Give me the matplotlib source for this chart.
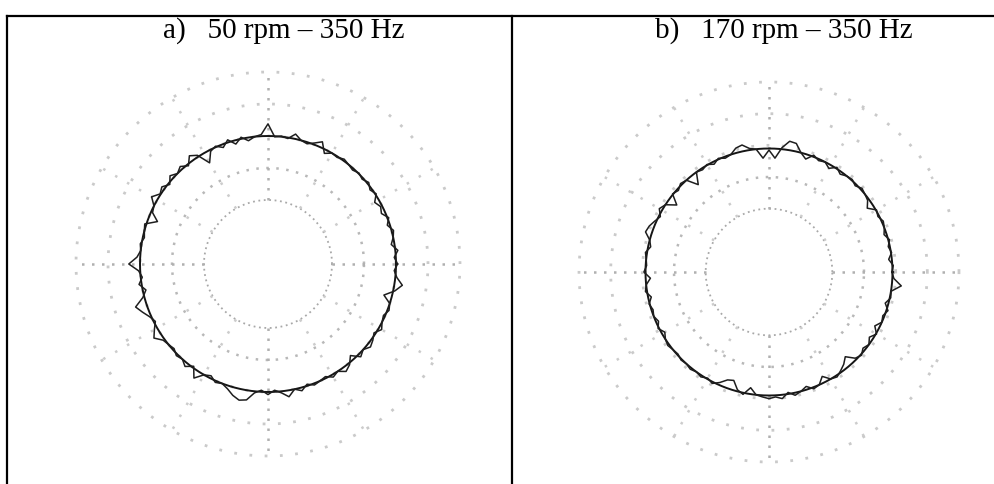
import numpy as np
import matplotlib
matplotlib.use("Agg")
import matplotlib.pyplot as plt
from matplotlib.lines import Line2D

# ---------------- data ----------------
titles = ["a)   50 rpm \u2013 350 Hz", "b)   170 rpm \u2013 350 Hz"]

angles_deg = list(range(0, 360, 3))  # measurement angles (deg, CCW from east)

ref_radius_a = 4.0
ref_radius_b = 3.9

dev_a = [0.05, -0.05, 0.08, -0.1, 0.0, 0.06, -0.08, 0.04, -0.12, -0.05,
         -0.15, 0.03, -0.06, 0.05, -0.04, 0.02, -0.05, 0.0, 0.05, -0.03,
         0.0, -0.12, 0.18, 0.05, -0.05, 0.0, 0.15, -0.03, 0.02, -0.02,
         0.38, 0.05, 0.0, -0.1, 0.05, -0.12, 0.08, -0.1, 0.03, -0.05,
         -0.35, 0.05, 0.18, -0.05, 0.1, 0.0, 0.12, -0.05, 0.1, 0.02,
         0.2, 0.0, -0.05, -0.3, 0.05, 0.0, -0.05, 0.04, 0.0, 0.1,
         0.35, 0.05, -0.05, 0.08, -0.1, 0.05, 0.35, 0.2, 0.05, -0.05,
         0.1, 0.25, 0.05, 0.0, -0.05, 0.05, 0.0, 0.12, -0.05, 0.25,
         0.0, -0.08, 0.05, 0.0, 0.1, 0.25, 0.35, 0.3, 0.05, -0.05,
         0.08, -0.05, 0.05, 0.2, 0.0, 0.1, -0.05, 0.05, 0.0, -0.05,
         0.08, 0.0, 0.15, 0.05, -0.15, 0.1, 0.0, 0.12, 0.05, -0.05,
         0.1, 0.0, -0.05, 0.05, 0.0, -0.25, 0.05, 0.25, 0.05, -0.05]

dev_b = [-0.02, 0.03, -0.1, 0.02, -0.05, 0.04, -0.08, 0.0, 0.05, -0.04,
         0.02, -0.2, -0.05, 0.0, 0.05, -0.05, 0.03, 0.0, -0.08, 0.04,
         -0.12, 0.0, -0.05, 0.05, -0.15, 0.0, 0.25, 0.28, 0.05, -0.3,
         -0.05, -0.3, 0.0, 0.05, 0.2, 0.15, 0.0, -0.05, 0.03, -0.08,
         0.02, -0.05, 0.0, -0.35, 0.0, 0.05, -0.05, 0.02, -0.3, 0.0,
         0.1, -0.05, 0.05, 0.15, 0.2, 0.0, -0.08, 0.05, 0.0, -0.03,
         0.05, -0.15, 0.0, 0.05, -0.1, 0.02, -0.05, 0.0, -0.08, 0.03,
         -0.1, 0.0, 0.05, 0.0, -0.03, 0.03, 0.0, 0.05, 0.0, 0.05,
         -0.03, 0.05, -0.08, -0.25, -0.3, -0.05, 0.05, -0.2, 0.0, 0.05,
         0.1, 0.05, 0.12, -0.05, 0.08, 0.0, -0.1, 0.05, 0.0, -0.2,
         0.0, 0.05, -0.05, -0.15, -0.3, -0.05, 0.03, -0.08, 0.0, -0.12,
         0.02, -0.15, 0.0, -0.05, 0.05, -0.1, 0.03, 0.0, 0.3, 0.05]

ring_values = [2, 3, 4, 5, 6]
spoke_angles_deg = list(range(0, 360, 30))

# ---------------- figure ----------------
W, H = 995, 484
fig = plt.figure(figsize=(W / 100, H / 100), dpi=100)
fig.patch.set_facecolor("white")

def px_axes(cx, cy, rad):
    return [(cx - rad) / W, 1 - (cy + rad) / H, 2 * rad / W, 2 * rad / H]

panels = [
    dict(rect=px_axes(268, 264, 192), ref=ref_radius_a, dev=dev_a, title=titles[0], tx=284),
    dict(rect=px_axes(769, 272, 190), ref=ref_radius_b, dev=dev_b, title=titles[1], tx=784),
]

tfull = np.linspace(0, 2 * np.pi, 721)

for p in panels:
    ax = fig.add_axes(p["rect"], projection="polar")
    ax.set_ylim(2, 6)
    ax.set_rorigin(0)
    ax.axis("off")

    # rings
    for rv in ring_values:
        if rv == 2:
            ls, col, lw = (0, (1, 2)), "#a8a8a8", 1.3
        elif rv == 3:
            ls, col, lw = (0, (1, 3)), "#b8b8b8", 1.8
        else:
            ls, col, lw = (0, (1, 4.5)), "#cacaca", 2.0
        ax.plot(tfull, np.full_like(tfull, rv), linestyle=ls, color=col,
                lw=lw, clip_on=False, zorder=1)
    # spokes
    for sa in spoke_angles_deg:
        t = np.deg2rad(sa)
        if sa % 90 == 0:
            ls, col, lw = (0, (1, 3)), "#b0b0b0", 1.8
        else:
            ls, col, lw = (0, (1, 4.5)), "#cccccc", 1.8
        ax.plot([t, t], [2, 6], linestyle=ls, color=col, lw=lw,
                clip_on=False, zorder=1)

    # reference circle
    ax.plot(tfull, np.full_like(tfull, p["ref"]), color="#151515", lw=1.4,
            clip_on=False, zorder=3)
    # measured profile
    th = np.deg2rad(angles_deg + [angles_deg[0] + 360])
    rr = [p["ref"] + d for d in p["dev"]] + [p["ref"] + p["dev"][0]]
    ax.plot(th, rr, color="#1e1e1e", lw=1.1, clip_on=False, zorder=4)

    fig.text(p["tx"] / W, 1 - 38 / H, p["title"], ha="center", va="baseline",
             fontsize=21, family="Liberation Serif", color="black")

# table borders
lines = [
    ((7 / W, 1.0), (1 - 16 / H, 1 - 16 / H)),
    ((7.5 / W, 7.5 / W), (0, 1 - 16 / H)),
    ((512.5 / W, 512.5 / W), (0, 1 - 16 / H)),
]
for xs, ys in lines:
    fig.add_artist(Line2D(xs, ys, transform=fig.transFigure, color="black", lw=1.6))

fig.savefig("out.png", dpi=100, facecolor="white")
